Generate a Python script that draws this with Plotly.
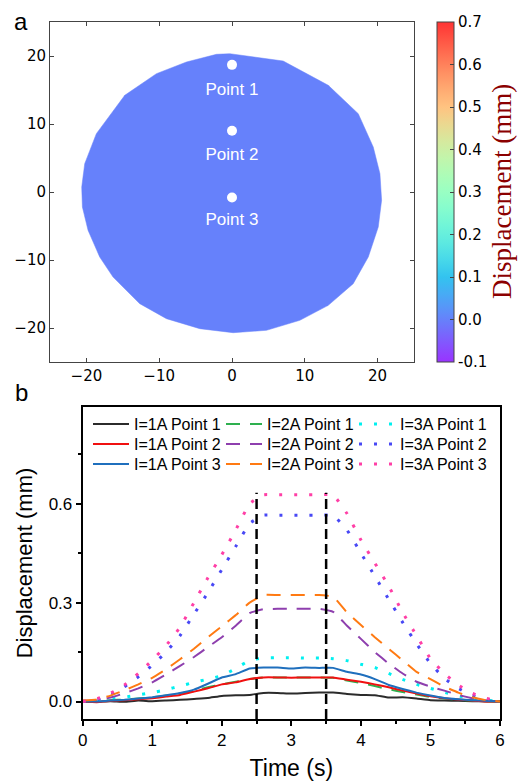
import plotly.graph_objects as go
import math

# ---------------- Data: panel a ----------------
boundary_x = [-2.13, -0.30, 7.03, 13.22, 17.34, 19.40, 20.32, 20.55, 20.09, 18.72, 16.65, 13.22, 9.32, 4.74, 0.16,
              -4.42, -9.00, -12.67, -16.34, -18.17, -19.77, -20.55, -20.64, -20.23, -18.63, -14.73, -10.38, -6.25]
boundary_y = [20.25, 20.34, 19.26, 15.69, 11.52, 6.62, 2.70, -1.22, -5.15, -9.56, -13.48, -16.67, -18.87, -20.34, -20.69,
              -20.10, -18.63, -16.42, -12.50, -9.56, -5.64, -2.21, 0.74, 4.17, 8.58, 14.22, 17.40, 19.12]
disk_value = 0.0
point_x = [0, 0, 0]
point_y = [18.7, 9.0, -0.8]
label_y = [14.9, 5.3, -4.3]
point_labels = ["Point 1", "Point 2", "Point 3"]
cbar_ticks = [-0.1, 0.0, 0.1, 0.2, 0.3, 0.4, 0.5, 0.6, 0.7]
cbar_ticktext = ["-0.1", "0.0", "0.1", "0.2", "0.3", "0.4", "0.5", "0.6", "0.7"]

# ---------------- Data: panel b ----------------
time_s = [0.0, 0.2, 0.4, 0.6, 0.8, 1.0, 1.2, 1.4, 1.6, 1.8, 2.0, 2.2, 2.4, 2.6, 2.8, 3.0,
          3.2, 3.4, 3.6, 3.8, 4.0, 4.2, 4.4, 4.6, 4.8, 5.0, 5.2, 5.4, 5.6, 5.8, 6.0]

i1_p1 = [0.000, -0.001, 0.001, -0.001, 0.003, 0.001, 0.003, 0.005, 0.008, 0.011, 0.017, 0.019, 0.020, 0.026, 0.026, 0.024,
         0.026, 0.027, 0.027, 0.023, 0.020, 0.019, 0.012, 0.013, 0.009, 0.004, 0.003, 0.002, 0.001, 0.000, 0.000]
i1_p2 = [0.000, -0.002, 0.002, 0.004, 0.007, 0.010, 0.015, 0.020, 0.030, 0.040, 0.052, 0.058, 0.068, 0.073, 0.073, 0.072,
         0.073, 0.073, 0.073, 0.066, 0.060, 0.052, 0.043, 0.033, 0.024, 0.016, 0.010, 0.006, 0.003, 0.000, 0.000]
i1_p3 = [0.000, 0.000, 0.003, 0.005, 0.009, 0.013, 0.019, 0.026, 0.036, 0.054, 0.073, 0.083, 0.100, 0.103, 0.103, 0.100,
         0.103, 0.102, 0.102, 0.090, 0.082, 0.068, 0.050, 0.038, 0.027, 0.018, 0.011, 0.007, 0.004, 0.002, 0.000]
i2_p1 = [0.000, 0.002, 0.004, 0.006, 0.009, 0.013, 0.018, 0.024, 0.033, 0.043, 0.052, 0.060, 0.068, 0.073, 0.073, 0.073,
         0.073, 0.073, 0.072, 0.064, 0.056, 0.047, 0.037, 0.029, 0.021, 0.014, 0.009, 0.005, 0.003, 0.001, 0.000]
i2_p2 = [0.002, 0.004, 0.012, 0.025, 0.040, 0.058, 0.082, 0.108, 0.135, 0.165, 0.195, 0.230, 0.268, 0.280, 0.281, 0.281,
         0.281, 0.281, 0.272, 0.230, 0.190, 0.150, 0.115, 0.085, 0.060, 0.045, 0.033, 0.020, 0.010, 0.003, 0.000]
i2_p3 = [0.003, 0.006, 0.018, 0.034, 0.052, 0.072, 0.098, 0.128, 0.160, 0.195, 0.228, 0.262, 0.300, 0.323, 0.323, 0.323,
         0.323, 0.323, 0.318, 0.270, 0.232, 0.195, 0.160, 0.125, 0.090, 0.068, 0.045, 0.027, 0.013, 0.004, 0.000]
i3_p1 = [0.000, 0.002, 0.008, 0.013, 0.020, 0.027, 0.036, 0.047, 0.058, 0.068, 0.078, 0.100, 0.125, 0.132, 0.133, 0.133,
         0.132, 0.132, 0.130, 0.124, 0.113, 0.103, 0.085, 0.067, 0.052, 0.040, 0.028, 0.017, 0.009, 0.004, 0.000]
i3_p2 = [0.000, 0.005, 0.020, 0.045, 0.075, 0.110, 0.150, 0.200, 0.265, 0.330, 0.400, 0.470, 0.540, 0.565, 0.565, 0.565,
         0.565, 0.565, 0.565, 0.520, 0.450, 0.380, 0.310, 0.240, 0.175, 0.115, 0.070, 0.040, 0.018, 0.006, 0.000]
i3_p3 = [0.000, 0.008, 0.025, 0.050, 0.085, 0.125, 0.170, 0.225, 0.300, 0.375, 0.445, 0.520, 0.600, 0.627, 0.627, 0.627,
         0.627, 0.627, 0.627, 0.570, 0.490, 0.420, 0.350, 0.270, 0.200, 0.130, 0.085, 0.050, 0.025, 0.010, 0.000]

series_names = ["I=1A Point 1", "I=2A Point 1", "I=3A Point 1",
                "I=1A Point 2", "I=2A Point 2", "I=3A Point 2",
                "I=1A Point 3", "I=2A Point 3", "I=3A Point 3"]
series_values = [i1_p1, i2_p1, i3_p1, i1_p2, i2_p2, i3_p2, i1_p3, i2_p3, i3_p3]

vline_t = [2.5, 3.5]
vline_top = 0.633

# ---------------- Styles ----------------
series_colors = ["#2b2b2b", "#2eb04f", "#00f0f0",
                 "#f01010", "#8e3fae", "#4848f5",
                 "#1f6fbd", "#ff7a12", "#ff3fa6"]
series_dash = ["solid", "14px,10px", "3px,12px",
               "solid", "14px,10px", "3px,12px",
               "solid", "14px,10px", "3px,12px"]
series_width = [2, 2, 3, 2, 2, 3, 2, 2, 3]
series_legend = ["legend", "legend", "legend",
                 "legend2", "legend2", "legend2",
                 "legend3", "legend3", "legend3"]

W, H = 518, 781


def rainbow(x, alpha=0.8):
    r = min(1.0, abs(2 * x - 0.5))
    g = math.sin(math.pi * x)
    b = math.cos(math.pi * x / 2)
    r, g, b = [alpha * c + (1 - alpha) for c in (r, g, b)]
    return "rgb(%d,%d,%d)" % (round(r * 255), round(g * 255), round(b * 255))


cmin, cmax = -0.1, 0.7
colorscale = [[i / 20, rainbow(i / 20)] for i in range(21)]
disk_color = rainbow((disk_value - cmin) / (cmax - cmin))

fig = go.Figure()

# Panel a: disk
fig.add_trace(go.Scatter(x=boundary_x + [boundary_x[0]], y=boundary_y + [boundary_y[0]],
                         mode="lines", fill="toself", fillcolor=disk_color,
                         line=dict(color=disk_color, width=0.5),
                         xaxis="x", yaxis="y", showlegend=False, hoverinfo="skip"))
# colorbar carrier
fig.add_trace(go.Scatter(x=[None, None], y=[None, None], mode="markers",
                         marker=dict(color=[cmin, cmax], colorscale=colorscale, cmin=cmin, cmax=cmax,
                                     showscale=True, size=0.1,
                                     colorbar=dict(
                                         x=437 / W, xanchor="left", xref="paper", xpad=0,
                                         y=1 - 192 / H, yanchor="middle", yref="paper", ypad=0,
                                         len=340 / H, lenmode="fraction", thickness=17,
                                         outlinecolor="#444", outlinewidth=1,
                                         tickvals=cbar_ticks, ticktext=cbar_ticktext,
                                         ticks="inside", ticklen=4, tickcolor="#444",
                                         tickfont=dict(family="DejaVu Sans", size=15, color="black"),
                                     )),
                         xaxis="x", yaxis="y", showlegend=False, hoverinfo="skip"))
# points
fig.add_trace(go.Scatter(x=point_x, y=point_y, mode="markers",
                         marker=dict(color="white", size=10),
                         xaxis="x", yaxis="y", showlegend=False, hoverinfo="skip"))
fig.add_trace(go.Scatter(x=point_x, y=label_y, mode="text", text=point_labels,
                         textfont=dict(family="Liberation Sans", size=17, color="white"),
                         xaxis="x", yaxis="y", showlegend=False, hoverinfo="skip"))

# Panel b: curves
for name, vals, c, d, w, lg in zip(series_names, series_values, series_colors, series_dash,
                                   series_width, series_legend):
    fig.add_trace(go.Scatter(x=time_s, y=vals, name=name, mode="lines", legend=lg,
                             line=dict(color=c, dash=d, width=w, shape="spline", smoothing=0.3),
                             xaxis="x2", yaxis="y2"))

y2_range = [-0.053, 0.893]
for t in vline_t:
    fig.add_trace(go.Scatter(x=[t, t], y=[y2_range[0], vline_top], mode="lines",
                             line=dict(color="black", dash="10px,5px", width=2.5),
                             xaxis="x2", yaxis="y2", showlegend=False, hoverinfo="skip"))

top_tick_font = dict(family="DejaVu Sans", size=15, color="black")
bot_tick_font = dict(family="Liberation Sans", size=17, color="black")


def legend_row(top_px):
    return dict(orientation="h", x=88 / W, xanchor="left", y=1 - top_px / H, yanchor="top",
                entrywidth=82, entrywidthmode="pixels", bgcolor="rgba(0,0,0,0)",
                font=dict(family="Liberation Sans", size=16, color="black"),
                itemwidth=36, tracegroupgap=0)


fig.update_layout(
    width=W, height=H, autosize=False,
    margin=dict(l=0, r=0, t=0, b=0, pad=0, autoexpand=False),
    paper_bgcolor="white", plot_bgcolor="white",
    xaxis=dict(domain=[50 / W, 414 / W], range=[-25, 25], tickvals=[-20, -10, 0, 10, 20],
               ticks="inside", ticklen=4, tickcolor="#444", showline=True, linecolor="#444",
               linewidth=1, mirror="ticks", showgrid=False, zeroline=False, tickfont=top_tick_font,
               anchor="y"),
    yaxis=dict(domain=[1 - 362 / H, 1 - 22 / H], range=[-25, 25], tickvals=[-20, -10, 0, 10, 20],
               ticks="inside", ticklen=4, tickcolor="#444", showline=True, linecolor="#444",
               linewidth=1, mirror="ticks", showgrid=False, zeroline=False, tickfont=top_tick_font,
               anchor="x"),
    xaxis2=dict(domain=[82.7 / W, 500 / W], range=[0, 6], dtick=1, tick0=0,
                ticks="outside", ticklen=5, tickwidth=1.5, tickcolor="black",
                minor=dict(ticks="outside", ticklen=3, dtick=0.5, tick0=0, tickcolor="black"),
                showline=True, linecolor="black", linewidth=2, mirror=True,
                showgrid=False, zeroline=False, tickfont=bot_tick_font,
                title=dict(text="Time (s)", font=dict(family="Liberation Sans", size=23, color="black"),
                           standoff=10),
                anchor="y2"),
    yaxis2=dict(domain=[1 - 719 / H, 1 - 407 / H], range=y2_range, tickvals=[0.0, 0.3, 0.6],
                ticktext=["0.0", "0.3", "0.6"],
                ticks="outside", ticklen=5, tickwidth=1.5, tickcolor="black",
                minor=dict(ticks="outside", ticklen=3, tickvals=[0.15, 0.45, 0.75], tickcolor="black"),
                showline=True, linecolor="black", linewidth=2, mirror=True,
                showgrid=False, zeroline=False, tickfont=bot_tick_font,
                title=dict(text="Displacement (mm)", font=dict(family="Liberation Sans", size=22, color="black"),
                           standoff=10),
                anchor="x2"),
    legend=legend_row(407),
    legend2=legend_row(427),
    legend3=legend_row(447),
    annotations=[
        dict(text="a", x=21 / W, y=1 - 22 / H, xref="paper", yref="paper", showarrow=False,
             xanchor="center", yanchor="middle",
             font=dict(family="Liberation Sans", size=24, color="black")),
        dict(text="b", x=21 / W, y=1 - 392 / H, xref="paper", yref="paper", showarrow=False,
             xanchor="center", yanchor="middle",
             font=dict(family="Liberation Sans", size=24, color="black")),
        dict(text="Displacement (mm)", x=502 / W, y=1 - 192 / H, xref="paper", yref="paper",
             showarrow=False, textangle=-90, xanchor="center", yanchor="middle",
             font=dict(family="Liberation Serif", size=27, color="#8b0000")),
    ],
)

fig.write_html("out.html")
